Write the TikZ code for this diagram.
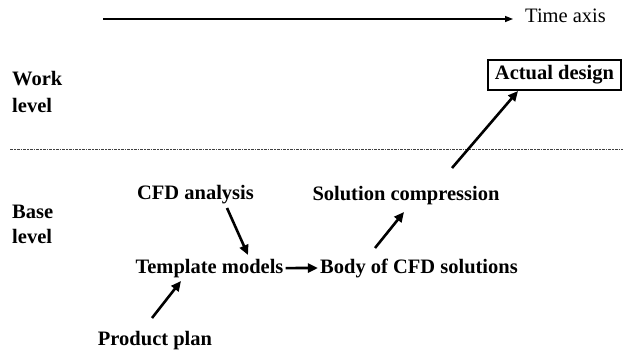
\documentclass[tikz,border=0pt]{standalone}
\usepackage{fontspec}
\setmainfont{Liberation Serif}
\usetikzlibrary{arrows.meta}
\begin{document}
\begin{tikzpicture}[x=1pt,y=-1pt,
  lbl/.style={font=\fontsize{20.5}{26}\selectfont\bfseries, inner sep=0pt},
  lvl/.style={lbl, align=left, anchor=base west},
  thick arrow/.style={line width=2.6pt, -{Triangle[length=10pt,width=9pt]}},
  axis arrow/.style={line width=1.4pt, -{Triangle[length=8pt,width=6pt]}},
  sep line/.style={line width=0.9pt, black!75, dash pattern=on 3pt off 1pt on 1.5pt off 1pt}]
\useasboundingbox (0,0) rectangle (623,356);
% time axis
\coordinate (t0) at (103,19);
\node[font=\fontsize{20.5}{24}\selectfont, inner sep=0pt, anchor=base west] (time) at (525,22) {Time axis};
\coordinate (t1) at (513,19);
\draw[axis arrow] (t0) -- (t1);
% level labels
\node[lvl, font=\fontsize{20.5}{27}\selectfont\bfseries] (work) at (12,112) {Work\\level};
\node[lvl, font=\fontsize{20.5}{25}\selectfont\bfseries] (base) at (12,243) {Base\\level};
% separator
\coordinate (s0) at (10,149);
\coordinate (s1) at (623,149);
\draw[sep line] (s0) -- (s1);
% nodes
\node[lbl, anchor=base] (cfd) at (195.5,199) {CFD analysis};
\node[lbl, anchor=base] (sol) at (406,200) {Solution compression};
\node[lbl, anchor=base] (tmpl) at (209.5,273) {Template models};
\node[lbl, anchor=base] (body) at (419,273) {Body of CFD solutions};
\node[lbl, anchor=base] (prod) at (155,345) {Product plan};
\node[lbl, draw, line width=1.2pt, minimum width=133pt, minimum height=30pt, inner sep=0pt] (act) at (554.5,75) {Actual design};
% connector end points
\coordinate (c1) at (227,208);
\coordinate (c2) at (248,255);
\coordinate (p1) at (152,318);
\coordinate (p2) at (181,281);
\coordinate (b1) at (375,248);
\coordinate (b2) at (404,212);
\coordinate (a1) at (452,168);
\coordinate (a2) at (518,91);
\draw[thick arrow] (c1) -- (c2);
\draw[thick arrow] (p1) -- (p2);
\draw[thick arrow, shorten <=2pt, shorten >=2pt] (tmpl.east) -- (body.west);
\draw[thick arrow] (b1) -- (b2);
\draw[thick arrow] (a1) -- (a2);
\end{tikzpicture}
\end{document}
